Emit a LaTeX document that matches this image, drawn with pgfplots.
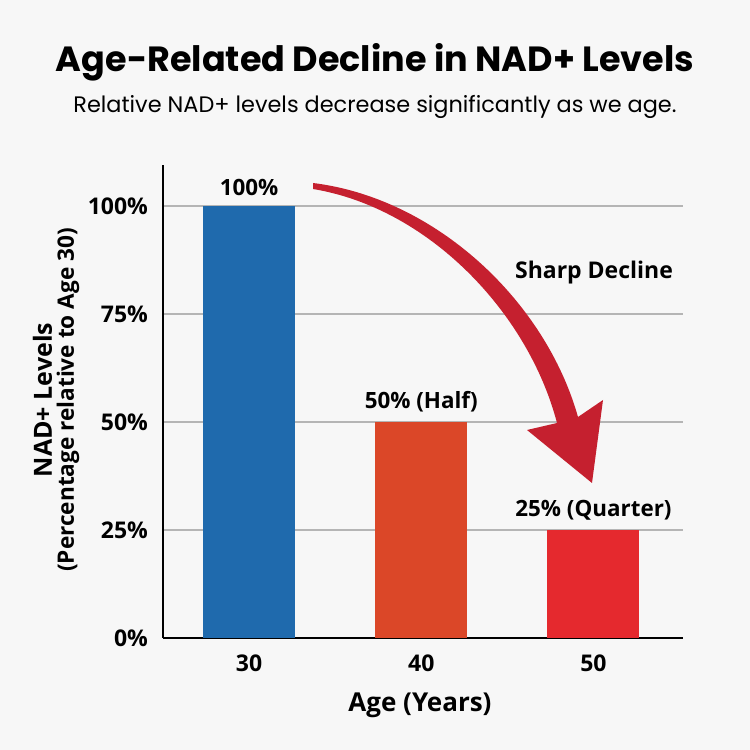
\documentclass[border=0pt]{standalone}
\usepackage{fontspec}
\setmainfont{Open Sans}
\newfontfamily\titlefont{Poppins}
\usepackage{pgfplots}
\pgfplotsset{compat=1.18}
\definecolor{bg}{HTML}{F7F7F7}
\definecolor{cblue}{HTML}{1F6AAD}
\definecolor{corange}{HTML}{DB4728}
\definecolor{cred}{HTML}{E5292E}
\definecolor{carrow}{HTML}{C5202F}
\definecolor{cgrid}{HTML}{B5B5B5}
\begin{document}
\begin{tikzpicture}
\fill[bg] (0,0) rectangle (375pt,375pt);
\begin{axis}[
  at={(81.5pt,56pt)}, anchor=south west,
  scale only axis, width=260pt, height=236.5pt,
  xmin=-0.5, xmax=2.52, ymin=0, ymax=109.5,
  axis x line=bottom, axis y line=left,
  axis line style={-, line width=1.1pt, black},
  major tick length=0pt,
  xtick={0,1,2}, xticklabels={30,40,50},
  ytick={0,25,50,75,100}, yticklabels={0\%,25\%,50\%,75\%,100\%},
  ymajorgrids, grid style={cgrid, line width=0.7pt},
  tick label style={font=\fontsize{11.5}{13}\selectfont\bfseries},
  xticklabel style={yshift=-5pt},
  yticklabel style={xshift=-4pt},
  ybar, bar width=46pt,
  nodes near coords, point meta=explicit symbolic,
  every node near coord/.append style={font=\fontsize{11.2}{13}\selectfont\bfseries, black, yshift=1.5pt},
  clip=false,
]
\addplot[fill=cblue, draw=none, bar shift=0pt] coordinates {(0,100) [100\%]};
\addplot[fill=corange, draw=none, bar shift=0pt] coordinates {(1,50) [50\% (Half)]};
\addplot[fill=cred, draw=none, bar shift=0pt] coordinates {(2,25) [25\% (Quarter)]};
\end{axis}
\begin{scope}[x=0.5pt, y=-0.5pt, yshift=375pt]
\fill[carrow] (313,183) .. controls (435,198) and (545,300) .. (578,417)
  -- (603,400) -- (592,483) -- (527,430) -- (557,423)
  .. controls (528,312) and (428,208) .. (313,189) -- cycle;
\node[font=\titlefont\fontsize{17.5}{20}\selectfont\bfseries] at (375,62) {Age-Related Decline in NAD+ Levels};
\node[font=\titlefont\fontsize{11.2}{13}\selectfont] at (375,107) {Relative NAD+ levels decrease significantly as we age.};
\node[font=\fontsize{13}{15}\selectfont\bfseries] at (420,705) {Age (Years)};
\node[font=\fontsize{11.5}{13}\selectfont\bfseries] at (594,273) {Sharp Decline};
\node[rotate=90, align=center, font=\bfseries] at (56,400) {{\fontsize{12.5}{15}\selectfont NAD+ Levels}\\[-1pt]{\fontsize{11.3}{13}\selectfont (Percentage relative to Age 30)}};
\end{scope}
\end{tikzpicture}
\end{document}
